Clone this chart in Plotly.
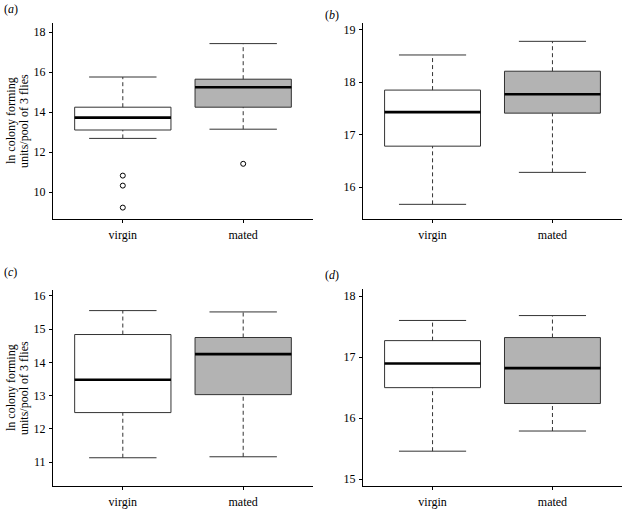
import plotly.graph_objects as go

# ---- data ----
groups = ["virgin", "mated"]
panels = ["a", "b", "c", "d"]

q1 = {"a": [13.10, 14.24], "b": [16.78, 17.41], "c": [12.49, 13.03], "d": [16.50, 16.24]}
median = {"a": [13.72, 15.24], "b": [17.43, 17.77], "c": [13.48, 14.25], "d": [16.895, 16.82]}
q3 = {"a": [14.24, 15.64], "b": [17.85, 18.21], "c": [14.84, 14.75], "d": [17.27, 17.32]}
lower = {"a": [12.68, 13.14], "b": [15.67, 16.28], "c": [11.13, 11.16], "d": [15.46, 15.79]}
upper = {"a": [15.75, 17.42], "b": [18.52, 18.78], "c": [15.56, 15.52], "d": [17.60, 17.68]}
outliers = {"a": [[10.82, 10.32, 9.22], [11.41]], "b": [[], []], "c": [[], []], "d": [[], []]}

yranges = {"a": [8.65, 18.45], "b": [15.39, 19.13], "c": [10.28, 16.18], "d": [14.89, 18.115]}
ydticks = {"a": 2, "b": 1, "c": 1, "d": 1}
ytitle_lines = ["ln colony forming", "units/pool of 3 flies"]

# ---- styling ----
W, H = 623, 509
FONT = "Liberation Serif"
fills = ["#ffffff", "#b3b3b3"]
edge = "#333333"
box_w = 0.8
cap_half = 0.28

# pixel boxes of each plotting region: (left, right, top, bottom)
regions = {"a": (53, 313, 23, 219), "b": (363, 622, 23, 219),
           "c": (53, 313, 290, 486), "d": (363, 622, 289, 486)}

fig = go.Figure()
layout = {}
for i, p in enumerate(panels):
    n = "" if i == 0 else str(i + 1)
    xa, ya = "x" + n, "y" + n
    for g, name in enumerate(groups):
        # dashed whiskers
        for a, b in [(q3[p][g], upper[p][g]), (lower[p][g], q1[p][g])]:
            fig.add_trace(go.Scatter(x=[g, g], y=[a, b], mode="lines", xaxis=xa, yaxis=ya,
                                     line=dict(color=edge, width=1, dash="4px,3px"),
                                     showlegend=False, hoverinfo="skip"))
        # caps
        for v in [upper[p][g], lower[p][g]]:
            fig.add_trace(go.Scatter(x=[g - cap_half, g + cap_half], y=[v, v], mode="lines",
                                     xaxis=xa, yaxis=ya, line=dict(color=edge, width=1),
                                     showlegend=False, hoverinfo="skip"))
        # box
        fig.add_trace(go.Box(x=[g], q1=[q1[p][g]], median=[median[p][g]], q3=[q3[p][g]],
                             lowerfence=[q1[p][g]], upperfence=[q3[p][g]], width=box_w,
                             whiskerwidth=0,
                             fillcolor=fills[g], line=dict(color=edge, width=1),
                             xaxis=xa, yaxis=ya, showlegend=False, boxpoints=False,
                             name=name))
        # thick median
        fig.add_trace(go.Scatter(x=[g - box_w / 2, g + box_w / 2], y=[median[p][g]] * 2,
                                 mode="lines", xaxis=xa, yaxis=ya,
                                 line=dict(color="black", width=2.6),
                                 showlegend=False, hoverinfo="skip"))
        # outliers
        if outliers[p][g]:
            fig.add_trace(go.Scatter(x=[g] * len(outliers[p][g]), y=outliers[p][g],
                                     mode="markers", xaxis=xa, yaxis=ya,
                                     marker=dict(symbol="circle-open", size=5,
                                                 color="black", line=dict(width=1)),
                                     showlegend=False))
    l, r, t, b = regions[p]
    axis_common = dict(showline=True, linecolor="black", linewidth=1, ticks="outside",
                       ticklen=3, tickwidth=1, tickcolor="black", showgrid=False,
                       zeroline=False, tickfont=dict(family=FONT, size=12, color="black"))
    layout["xaxis" + n] = dict(axis_common, domain=[l / W, r / W], range=[-0.58, 1.58],
                               tickvals=[0, 1], ticktext=groups, anchor=ya,
                               ticklabelstandoff=2)
    layout["yaxis" + n] = dict(axis_common, domain=[1 - b / H, 1 - t / H],
                               range=yranges[p], dtick=ydticks[p], anchor=xa,
                               ticklabelstandoff=1)

annotations = []
label_pos = {"a": (2, 9), "b": (323, 15), "c": (2, 272), "d": (323, 275)}
for p in panels:
    x, y = label_pos[p]
    annotations.append(dict(text="(<i>%s</i>)" % p, x=x / W, y=1 - y / H, xref="paper",
                            yref="paper", xanchor="left", yanchor="middle", showarrow=False,
                            font=dict(family=FONT, size=12, color="black")))
for p in ["a", "c"]:
    l, r, t, b = regions[p]
    for k, line in enumerate(ytitle_lines):
        annotations.append(dict(text=line, x=(11 + 13 * k) / W, y=1 - (t + b) / 2 / H,
                                xref="paper", yref="paper", xanchor="center",
                                yanchor="middle", textangle=-90, showarrow=False,
                                font=dict(family=FONT, size=12, color="black")))

fig.update_layout(width=W, height=H, margin=dict(l=0, r=0, t=0, b=0),
                  plot_bgcolor="white", paper_bgcolor="white", showlegend=False,
                  annotations=annotations, **layout)
fig.write_html("out.html", config={"displayModeBar": False},
               post_script="document.body.style.margin='0';")
